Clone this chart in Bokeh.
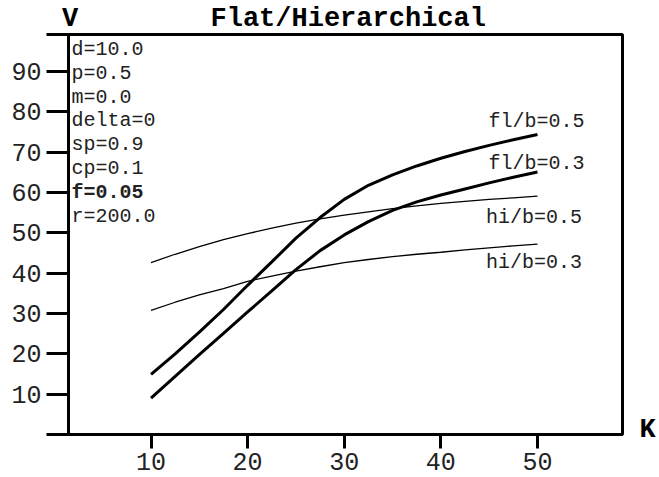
from bokeh.plotting import figure
from bokeh.models import Range1d, FixedTicker, CustomJSTickFormatter, Label, LinearAxis
from bokeh.layouts import column
from bokeh.embed import file_html
from bokeh.resources import INLINE

# ---- data ----
k_values = [10, 12.5, 15, 17.5, 20, 22.5, 25, 27.5, 30, 32.5, 35, 37.5, 40, 42.5, 45, 47.5, 50]
fl_b05 = [14.9, 20.0, 25.4, 31.0, 37.0, 42.8, 48.7, 53.8, 58.3, 61.8, 64.4, 66.6, 68.5, 70.2, 71.7, 73.1, 74.4]
fl_b03 = [9.0, 14.4, 19.8, 25.1, 30.4, 35.6, 40.9, 45.6, 49.5, 52.8, 55.6, 57.7, 59.4, 60.9, 62.4, 63.8, 65.1]
hi_b05 = [42.6, 44.7, 46.6, 48.3, 49.8, 51.2, 52.4, 53.5, 54.4, 55.2, 56.0, 56.7, 57.3, 57.8, 58.3, 58.7, 59.1]
hi_b03 = [30.8, 32.8, 34.6, 36.2, 38.0, 39.3, 40.5, 41.6, 42.6, 43.4, 44.1, 44.7, 45.2, 45.8, 46.3, 46.8, 47.2]
series_names = ["fl/b=0.5", "fl/b=0.3", "hi/b=0.5", "hi/b=0.3"]
x_ticks = [10, 20, 30, 40, 50]
y_ticks = [0, 10, 20, 30, 40, 50, 60, 70, 80, 90, 99.2]
params = ["d=10.0", "p=0.5", "m=0.0", "delta=0", "sp=0.9", "cp=0.1", "f=0.05", "r=200.0"]
bold_param = "f=0.05"
title_text = "Flat/Hierarchical"
y_name = "V"
x_name = "K"

FONT = "Liberation Mono"
X_START, X_END = 1.46, 58.8
Y_START, Y_END = 0, 99.2
W = 659
TOP_H = 32
LEFT_B, RIGHT_B = 68, 37

# ---- heading strip (title and the "V" name) ----
head = figure(width=W, height=TOP_H, output_backend="svg", toolbar_location=None,
              x_range=Range1d(0, W), y_range=Range1d(0, TOP_H),
              x_axis_type=None, y_axis_type=None,
              min_border_left=0, min_border_right=0, min_border_top=0, min_border_bottom=0)
head.outline_line_color = None
head.background_fill_color = "white"
head.border_fill_color = "white"
head.xgrid.visible = False
head.ygrid.visible = False
head.add_layout(Label(x=69.5, y=14, x_units="screen", y_units="screen", text=y_name,
                      text_font=FONT, text_font_size="27px", text_font_style="bold",
                      text_color="black", text_baseline="alphabetic", text_align="center"))
head.add_layout(Label(x=210, y=14, x_units="screen", y_units="screen", text=title_text,
                      text_font=FONT, text_font_size="27px", text_font_style="bold",
                      text_color="black", text_baseline="alphabetic", text_align="left"))

# ---- main plot ----
p = figure(width=W, height=477 - TOP_H, output_backend="svg", toolbar_location=None,
           x_range=Range1d(X_START, X_END), y_range=Range1d(Y_START, Y_END),
           min_border_left=LEFT_B, min_border_right=RIGHT_B, min_border_top=2, min_border_bottom=43)
p.background_fill_color = "white"
p.border_fill_color = "white"
p.outline_line_color = "black"
p.outline_line_width = 3
p.xgrid.visible = False
p.ygrid.visible = False

# keep the heading strip's frame independent of the main plot's frame
for fig in (head, p):
    try:
        fig.frame_align = False
    except Exception:
        pass

for ax in (p.xaxis[0], p.yaxis[0]):
    ax.axis_line_width = 3
    ax.axis_line_color = "black"
    ax.major_tick_line_width = 3
    ax.major_tick_line_color = "black"
    ax.major_tick_in = 0
    ax.minor_tick_line_color = None
    ax.major_label_text_font = FONT
    ax.major_label_text_font_size = "25px"
    ax.major_label_text_color = "#222222"

p.xaxis[0].ticker = FixedTicker(ticks=x_ticks)
p.xaxis[0].major_tick_out = 14
p.xaxis[0].major_label_standoff = 4
p.yaxis[0].ticker = FixedTicker(ticks=y_ticks)
p.yaxis[0].major_tick_out = 22
p.yaxis[0].major_label_standoff = 5
p.yaxis[0].formatter = CustomJSTickFormatter(code="return (tick > 5 && tick < 95) ? tick.toFixed(0) : '';")

# "K" name: label of an axis on the right, level with the bottom axis
right_axis = LinearAxis(ticker=FixedTicker(ticks=[1.1]),
                        formatter=CustomJSTickFormatter(args=dict(a=x_name), code="return a;"),
                        axis_line_color=None, major_tick_line_color=None,
                        minor_tick_line_color=None, major_tick_out=0, major_tick_in=0,
                        major_label_standoff=17, major_label_text_font=FONT,
                        major_label_text_font_size="27px", major_label_text_font_style="bold",
                        major_label_text_color="black")
p.add_layout(right_axis, "right")

# curves
p.line(k_values, fl_b05, line_color="black", line_width=3)
p.line(k_values, fl_b03, line_color="black", line_width=3)
p.line(k_values, hi_b05, line_color="black", line_width=1.3)
p.line(k_values, hi_b03, line_color="black", line_width=1.3)

# curve labels (screen units relative to frame bottom-left)
curve_label_pos = [(420, 313), (420, 271.5), (417.5, 217.5), (417.5, 172.5)]
for name, (sx, sy) in zip(series_names, curve_label_pos):
    p.add_layout(Label(x=sx, y=sy, x_units="screen", y_units="screen", text=name,
                       text_font=FONT, text_font_size="20px", text_color="#222222",
                       text_baseline="alphabetic", text_align="left"))

# parameter block
for i, t in enumerate(params):
    p.add_layout(Label(x=3, y=385 - 23.8 * i, x_units="screen", y_units="screen", text=t,
                       text_font=FONT, text_font_size="20px", text_color="#222222",
                       text_font_style="bold" if t == bold_param else "normal",
                       text_baseline="alphabetic", text_align="left"))

layout = column(head, p, spacing=0)
open("out.html", "w").write(file_html(layout, INLINE))
